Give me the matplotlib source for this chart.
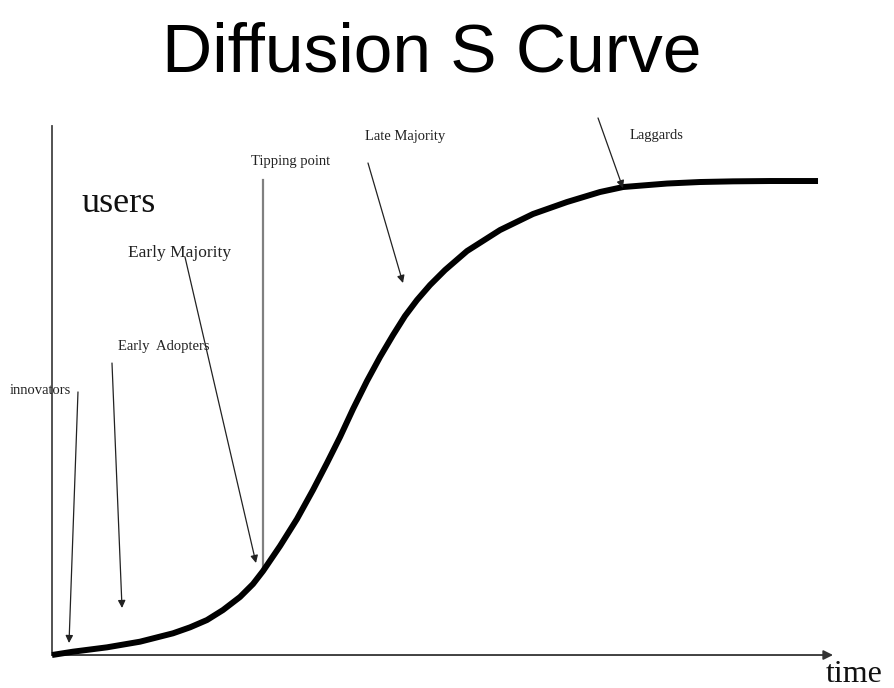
import numpy as np
import matplotlib
matplotlib.use("Agg")
import matplotlib.pyplot as plt

# S curve: time (% of span) vs users (% of saturation)
time_pts = [0.0, 2.74, 7.18, 11.49, 15.80, 18.02, 20.23, 22.32, 24.54, 26.24,
            27.55, 29.77, 31.98, 34.07, 35.90, 37.60, 39.30, 41.12, 42.82,
            44.52, 46.08, 47.65, 49.35, 51.31, 54.18, 58.49, 62.79, 67.23,
            71.54, 74.54, 80.29, 84.60, 88.90, 93.73, 100.0]
users_pts = [0.0, 0.70, 1.62, 2.81, 4.58, 5.84, 7.38, 9.49, 12.24, 14.98,
             17.72, 23.00, 28.69, 34.81, 40.51, 45.99, 51.90, 57.81, 62.87,
             67.51, 71.52, 74.89, 78.06, 81.22, 85.23, 89.66, 93.04, 95.57,
             97.68, 98.73, 99.47, 99.79, 99.93, 100.0, 100.0]

# adopter groups and where their labels/arrows point
labels = ["innovators", "Early  Adopters", "Early Majority", "Late Majority", "Laggards"]
label_xy = [(-1.5, 55.1), (14.6, 64.3), (16.6, 84.0), (46.1, 108.6), (78.9, 108.9)]
tail_xy = [(3.39, 55.5), (7.83, 61.6), (17.36, 83.97), (41.25, 103.8), (71.28, 113.3)]
head_xy = [(2.22, 2.53), (9.14, 9.92), (26.63, 19.41), (45.82, 78.48), (74.54, 98.5)]
label_size = [10.5, 10.5, 12.5, 10.5, 10.5]

tip_t = 27.55
tip_top = 100.2
tip_bottom = 18.0

serif = "Liberation Serif"

fig = plt.figure(figsize=(8.95, 6.88), dpi=100)
ax = fig.add_axes([0, 0, 1, 1])
ax.set_xlim(-6.79, 110.05)
ax.set_ylim(-6.96, 138.19)
ax.axis("off")

# axes drawn by hand (y line, x arrow)
ax.plot([0, 0], [0, 111.6], color="#444444", lw=1.3)
ax.annotate("", xy=(101.96, 0), xytext=(0, 0),
            arrowprops=dict(arrowstyle="-|>", color="#333333", lw=1.3,
                            mutation_scale=14, shrinkA=0, shrinkB=0))

# the curve
ax.plot(time_pts, users_pts, color="black", lw=4.3, solid_capstyle="butt",
        solid_joinstyle="round", zorder=3)

# tipping point marker line
ax.plot([tip_t, tip_t], [tip_bottom, tip_top], color="#808080", lw=1.6)
ax.text(31.2, 103.4, "Tipping point", ha="center", va="baseline",
        family=serif, fontsize=10.5, color="#222222")

for lab, (tx, ty), tail, head, fs in zip(labels, label_xy, tail_xy, head_xy, label_size):
    ax.text(tx, ty, lab, ha="center", va="baseline", family=serif,
            fontsize=fs, color="#222222", zorder=2)
    ax.annotate("", xy=head, xytext=tail,
                arrowprops=dict(arrowstyle="-|>", color="#222222", lw=0.9,
                                mutation_scale=11, shrinkA=0, shrinkB=0))

ax.text(8.7, 93.5, "users", ha="center", va="baseline", family=serif,
        fontsize=26, color="#111111")
ax.text(101.0, -5.7, "time", ha="left", va="baseline", family=serif,
        fontsize=23, color="#111111")

fig.text(432 / 895, 1 - 72 / 688, "Diffusion S Curve", ha="center", va="baseline",
         family="Liberation Sans", fontsize=50, color="black")

fig.savefig("out.png", dpi=100, facecolor="white")
